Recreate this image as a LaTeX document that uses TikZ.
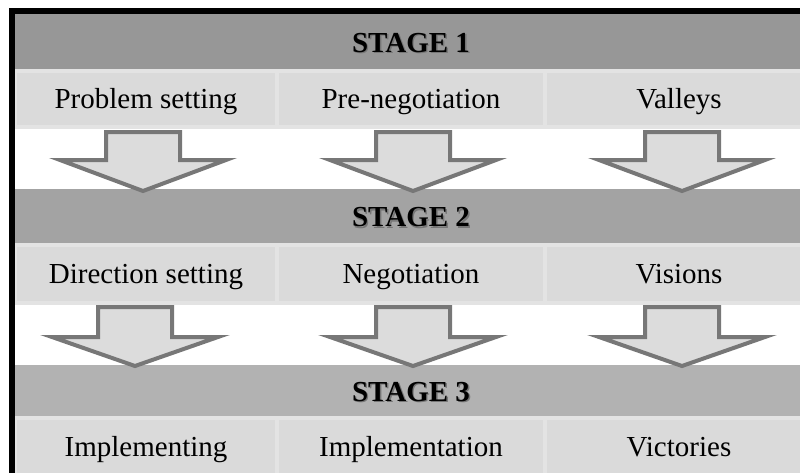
\documentclass[tikz,border=0pt]{standalone}
\usepackage{fontspec}
\setmainfont{Liberation Serif}
\newcommand{\shadowtitle}[1]{%
  \makebox[0pt][l]{\hspace{1.4pt}\raisebox{-1.4pt}{\color{titleshadow}#1}}#1}
\begin{document}
\begin{tikzpicture}[x=1pt,y=-1pt,
  stagebar/.style={fill=#1, draw=none, inner sep=0pt, outer sep=0pt, anchor=north west,
    minimum width=800pt},
  stagetext/.style={font=\fontsize{29}{34}\selectfont\bfseries, text height=19.5pt, text depth=0pt, inner sep=0pt},
  cellbox/.style={fill=cellgray, draw=celledge, line width=4pt, inner sep=0pt, outer sep=0pt,
    anchor=north west, font=\fontsize{29}{34}\selectfont, text height=19.5pt, text depth=0pt},
  blockarrow/.style={draw=arrowline, fill=arrowfill, line width=4pt, line join=miter}
]
\definecolor{stageA}{HTML}{979797}
\definecolor{stageB}{HTML}{A3A3A3}
\definecolor{stageC}{HTML}{B2B2B2}
\definecolor{titleshadow}{HTML}{767676}
\definecolor{cellgray}{HTML}{DADADA}
\definecolor{celledge}{HTML}{E3E3E3}
\definecolor{arrowline}{HTML}{777777}
\definecolor{arrowfill}{HTML}{DCDCDC}

\useasboundingbox (0,0) rectangle (800,472);
\clip (0,0) rectangle (800,472);

% stage bars
\node[stagebar=stageA, minimum height=57pt] (s1) at (15,14) {};
\node[stagebar=stageB, minimum height=56pt] (s2) at (15,189) {};
\node[stagebar=stageC, minimum height=53pt] (s3) at (15,365) {};

% stage titles with a soft drop shadow
\node[stagetext] (s1t) at (s1.center -| 411,0) {\shadowtitle{STAGE 1}};
\node[stagetext] (s2t) at (s2.center -| 411,0) {\shadowtitle{STAGE 2}};
\node[stagetext] (s3t) at (s3.center -| 411,0) {\shadowtitle{STAGE 3}};

% phase cells
\node[cellbox, minimum width=262pt, minimum height=56pt] (c11) at (15,71) {Problem setting};
\node[cellbox, minimum width=268pt, minimum height=56pt] (c12) at (277,71) {Pre-negotiation};
\node[cellbox, minimum width=268pt, minimum height=56pt] (c13) at (545,71) {Valleys};

\node[cellbox, minimum width=262pt, minimum height=58pt] (c21) at (15,245) {Direction setting};
\node[cellbox, minimum width=268pt, minimum height=58pt] (c22) at (277,245) {Negotiation};
\node[cellbox, minimum width=268pt, minimum height=58pt] (c23) at (545,245) {Visions};

\node[cellbox, minimum width=262pt, minimum height=58pt] (c31) at (15,418) {Implementing};
\node[cellbox, minimum width=268pt, minimum height=58pt] (c32) at (277,418) {Implementation};
\node[cellbox, minimum width=268pt, minimum height=58pt] (c33) at (545,418) {Victories};

% block arrows between the stages: centre x, top, neck, tip
\newcommand{\stagearrow}[4]{%
  \draw[blockarrow] (#1-37,#2) -- (#1+37,#2) -- (#1+37,#3) -- (#1+83,#3)
    -- (#1,#4) -- (#1-83,#3) -- (#1-37,#3) -- cycle;}
\stagearrow{143}{132}{160}{191}
\stagearrow{413}{132}{160}{191}
\stagearrow{682}{132}{160}{191}
\stagearrow{135}{307}{337}{366}
\stagearrow{413}{307}{337}{366}
\stagearrow{682}{307}{337}{366}

% outer frame
\draw[line width=6pt] (12,11) rectangle (830,490);
\end{tikzpicture}
\end{document}
